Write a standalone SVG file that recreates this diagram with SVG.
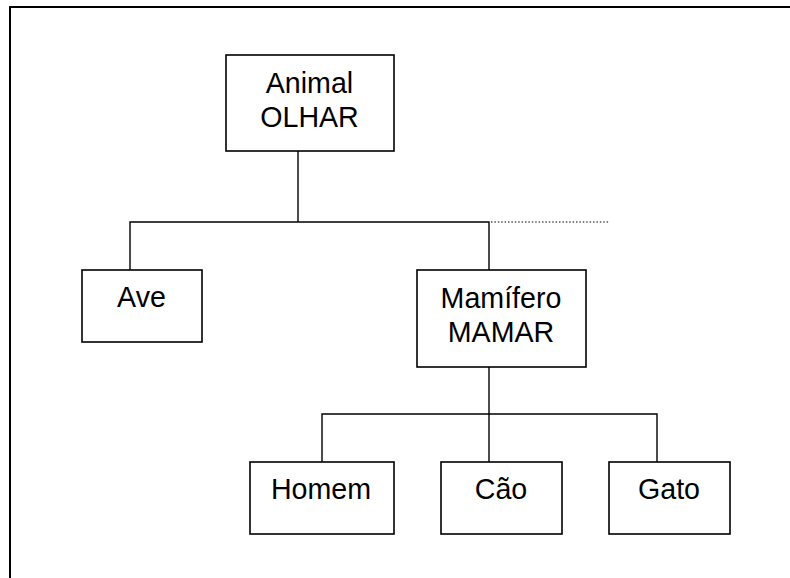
<svg xmlns="http://www.w3.org/2000/svg" width="790" height="578" viewBox="0 0 790 578">
<style>
.box{fill:#fff;stroke:#000;stroke-width:1.6}
.lbl{font-family:"Liberation Sans",Arial,sans-serif;font-size:28.6px;fill:#000;text-anchor:middle}
.con{fill:none;stroke:#000;stroke-width:1.4}
.dot{fill:none;stroke:#000;stroke-width:1.2;stroke-dasharray:1.5 1.9}
</style>
<rect width="790" height="578" fill="#fff"/>
<path d="M10 578 V7 H790" fill="none" stroke="#000" stroke-width="2"/>
<g id="connectors">
<path class="con" d="M298 151 V222"/>
<path class="con" d="M130 270 V222 H489 V270"/>
<path class="dot" d="M491 222 H609"/>
<path class="con" d="M489 367 V414"/>
<path class="con" d="M322 462 V414 H657 V462"/>
<path class="con" d="M489 414 V462"/>
</g>
<g id="animal">
<rect class="box" x="226" y="55" width="168" height="96"/>
<text class="lbl" x="309.5" y="93">Animal</text>
<text class="lbl" x="309.5" y="127">OLHAR</text>
</g>
<g id="ave">
<rect class="box" x="82" y="270" width="120" height="72"/>
<text class="lbl" x="141.5" y="307">Ave</text>
</g>
<g id="mamifero">
<rect class="box" x="417" y="270" width="169" height="97"/>
<text class="lbl" x="501" y="308">Mamífero</text>
<text class="lbl" x="501" y="342">MAMAR</text>
</g>
<g id="homem">
<rect class="box" x="250" y="462" width="144" height="72"/>
<text class="lbl" x="321" y="499">Homem</text>
</g>
<g id="cao">
<rect class="box" x="441" y="462" width="121" height="72"/>
<text class="lbl" x="501" y="499">Cão</text>
</g>
<g id="gato">
<rect class="box" x="609" y="462" width="121" height="72"/>
<text class="lbl" x="669" y="499">Gato</text>
</g>
</svg>
